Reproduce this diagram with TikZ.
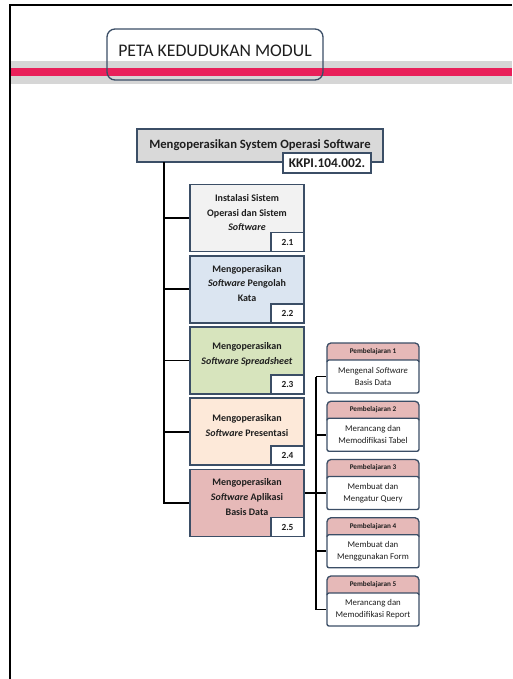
\documentclass[tikz,border=0pt]{standalone}
\usepackage{fontspec}
\setmainfont{Carlito}
\usepackage{tikz}

\definecolor{garisbiru}{HTML}{3B4E66}
\definecolor{abumuda}{HTML}{D9D9D9}
\definecolor{pitaabu}{HTML}{D6D6D6}
\definecolor{pitamerah}{HTML}{E9205A}
\definecolor{isisatu}{HTML}{F2F2F2}
\definecolor{isidua}{HTML}{DBE5F1}
\definecolor{isitiga}{HTML}{D7E4BD}
\definecolor{isiempat}{HTML}{FDE9D9}
\definecolor{isilima}{HTML}{E6B9B8}
\definecolor{teksgelap}{HTML}{1E1E1E}

\tikzset{
  kotak/.style={draw=garisbiru, line width=1.2pt, inner sep=0pt, align=center, text=teksgelap},
  modul/.style={kotak, minimum width=85.5pt, minimum height=50.25pt},
  modteks/.style={align=center, inner sep=0pt, text=teksgelap, font=\bfseries\fontsize{7.5}{11}\selectfont},
  nomor/.style={kotak, fill=white, minimum width=24.75pt, minimum height=14.25pt, anchor=south east, font=\bfseries\fontsize{7}{8}\selectfont},
  hubung/.style={line width=1.3pt, black},
  pbgaris/.style={draw=garisbiru, line width=1pt},
  pbkepala/.style={inner sep=0pt, text=teksgelap, font=\bfseries\fontsize{5.4}{6}\selectfont},
  pbbadan/.style={pbgaris, fill=white, rounded corners=1.5pt, inner sep=0pt, align=center, text=teksgelap,
    minimum width=69pt, minimum height=24.75pt, font=\fontsize{6.6}{9}\selectfont}
}

% kotak pembelajaran: nama, atas, nomor, teks
\newcommand{\pbkotak}[4]{%
  \draw[pbgaris, fill=isilima, rounded corners=3pt] (327,#2) rectangle (419,#2+22);
  \node[pbkepala] (#1k) at (373,#2+8.5) {Pembelajaran #3};
  \node[pbbadan] (#1) at (373,#2+33.5) {#4};
}

\begin{document}
\begin{tikzpicture}[x=0.75pt,y=-0.75pt]
  \useasboundingbox (0,0) rectangle (512,679);
  \fill[white] (0,0) rectangle (512,679);
  % bingkai dan pita
  \draw[line width=1.2pt] (10,679) -- (10,5) -- (512,5);
  \fill[pitaabu] (11,61) rectangle (512,84);
  \fill[pitamerah] (11,68) rectangle (512,76);
  \draw[garisbiru, line width=1pt, rounded corners=6pt] (107,29) rectangle (323,80);
  \node[inner sep=0pt, text=teksgelap, font=\fontsize{13.3}{15}\selectfont] (judul) at (215,51) {PETA KEDUDUKAN MODUL};

  % standar kompetensi
  \node[kotak, fill=abumuda, minimum width=184.5pt, minimum height=24.75pt,
    font=\bfseries\fontsize{9.5}{11}\selectfont] (sistem) at (260,145.5) {\raisebox{2.6pt}{Mengoperasikan System Operasi Software}};
  \node[kotak, fill=white, minimum width=66pt, minimum height=15pt,
    font=\bfseries\fontsize{10}{11}\selectfont] (kode) at (327,163) {KKPI.104.002.};

  % modul
  \node[modul, fill=isisatu] (m1) at (247,218) {};
  \node[modteks] (m1t) at ([yshift=4pt]m1.center) {Instalasi Sistem\\Operasi dan Sistem\\\textit{Software}};
  \node[nomor] (n1) at (m1.south east) {2.1};

  \node[modul, fill=isidua] (m2) at (247,289.25) {};
  \node[modteks] (m2t) at ([yshift=4.5pt]m2.center) {Mengoperasikan\\\textit{Software} Pengolah\\Kata};
  \node[nomor] (n2) at (m2.south east) {2.2};

  \node[modul, fill=isitiga] (m3) at (247,360.5) {};
  \node[modteks] (m3t) at ([yshift=4.5pt]m3.center) {Mengoperasikan\\\textit{Software Spreadsheet}};
  \node[nomor] (n3) at (m3.south east) {2.3};

  \node[modul, fill=isiempat] (m4) at (247,431.75) {};
  \node[modteks] (m4t) at ([yshift=4.5pt]m4.center) {Mengoperasikan\\\textit{Software} Presentasi};
  \node[nomor] (n4) at (m4.south east) {2.4};

  \node[modul, fill=isilima] (m5) at (247,503) {};
  \node[modteks] (m5t) at ([yshift=4.5pt]m5.center) {Mengoperasikan\\\textit{Software} Aplikasi\\Basis Data};
  \node[nomor] (n5) at (m5.south east) {2.5};

  % pembelajaran
  \pbkotak{p1}{343}{1}{Mengenal \textit{Software}\\Basis Data}
  \pbkotak{p2}{401.25}{2}{Merancang dan\\Memodifikasi Tabel}
  \pbkotak{p3}{459.5}{3}{Membuat dan\\Mengatur Query}
  \pbkotak{p4}{517.75}{4}{Membuat dan\\Menggunakan Form}
  \pbkotak{p5}{576}{5}{Merancang dan\\Memodifikasi Report}

  % garis penghubung
  \coordinate (batang) at (164,162);
  \draw[hubung] (batang) |- (m5.west);
  \foreach \m in {m1,m2,m3,m4}
    \draw[hubung] (batang |- \m.west) -- (\m.west);
  \coordinate (cabang) at (316,0);
  \draw[hubung] (cabang |- p1.west) -- (p1.west);
  \draw[hubung] (cabang |- p1.west) |- (p5.west);
  \foreach \p in {p2,p4}
    \draw[hubung] (cabang |- \p.west) -- (\p.west);
  \draw[hubung] (m5.east |- p3.west) -- (p3.west);
\end{tikzpicture}
\end{document}
